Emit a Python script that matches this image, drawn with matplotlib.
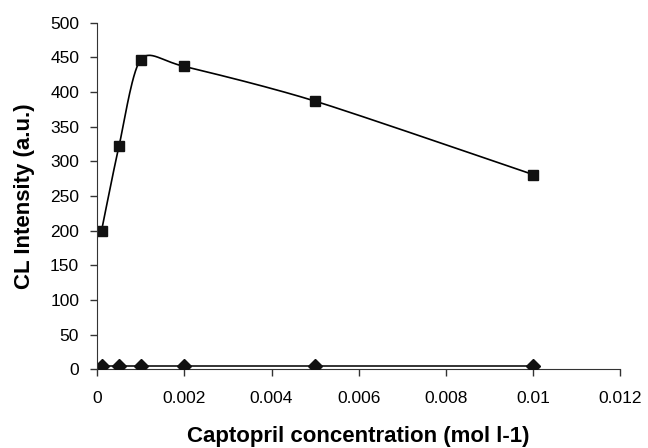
import numpy as np
import matplotlib
matplotlib.use('Agg')
import matplotlib.pyplot as plt

# Data
conc = [0.0001, 0.0005, 0.001, 0.002, 0.005, 0.01]
cl_squares = [200, 322, 447, 437, 387, 281]
cl_diamonds = [5, 5, 5, 5, 5, 5]

x_ticks = [0, 0.002, 0.004, 0.006, 0.008, 0.01, 0.012]
x_ticklabels = ['0', '0.002', '0.004', '0.006', '0.008', '0.01', '0.012']
y_ticks = list(range(0, 501, 50))


def smooth(x, y, n=30):
    # Excel-style smoothed line (Catmull-Rom through the points)
    x = np.asarray(x, float)
    y = np.asarray(y, float)
    px = np.concatenate([[x[0]], x, [x[-1]]])
    py = np.concatenate([[y[0]], y, [y[-1]]])
    xs, ys = [], []
    t = np.linspace(0, 1, n)
    for i in range(1, len(px) - 2):
        for p, out in ((px, xs), (py, ys)):
            p0, p1, p2, p3 = p[i - 1], p[i], p[i + 1], p[i + 2]
            m1 = (p2 - p0) / 7.5
            m2 = (p3 - p1) / 7.5
            out.extend((1 - t) ** 3 * p1 + 3 * (1 - t) ** 2 * t * (p1 + m1)
                       + 3 * (1 - t) * t ** 2 * (p2 - m2) + t ** 3 * p2)
    return xs, ys


def main():
    plt.rcParams['font.family'] = ['Liberation Sans', 'DejaVu Sans']
    fig = plt.figure(figsize=(6.48, 4.48), dpi=100)
    ax = fig.add_axes([0.150, 0.176, 0.807, 0.773])

    sx, sy = smooth(conc, cl_squares)
    ax.plot(sx, sy, color='black', lw=1.2)
    ax.plot(conc, cl_squares, 's', color='#111111', ms=7.5)
    ax.plot(conc, cl_diamonds, '-D', color='#111111', lw=1.2, ms=7)

    ax.set_xlim(0, 0.012)
    ax.set_ylim(0, 500)
    ax.set_xticks(x_ticks)
    ax.set_xticklabels(x_ticklabels)
    ax.set_yticks(y_ticks)
    ax.tick_params(labelsize=12.5, length=5, width=1, color='#333333', pad=8)
    ax.tick_params(axis='x', pad=11)
    for side in ('top', 'right'):
        ax.spines[side].set_visible(False)
    for side in ('left', 'bottom'):
        ax.spines[side].set_color('#333333')
    ax.spines['bottom'].set_zorder(0)

    ax.set_xlabel('Captopril concentration (mol l-1)', fontsize=16,
                  fontweight='bold', labelpad=14)
    ax.set_ylabel('CL Intensity (a.u.)', fontsize=16, fontweight='bold',
                  labelpad=11)
    fig.savefig('out.png', dpi=100)


if __name__ == '__main__':
    main()
